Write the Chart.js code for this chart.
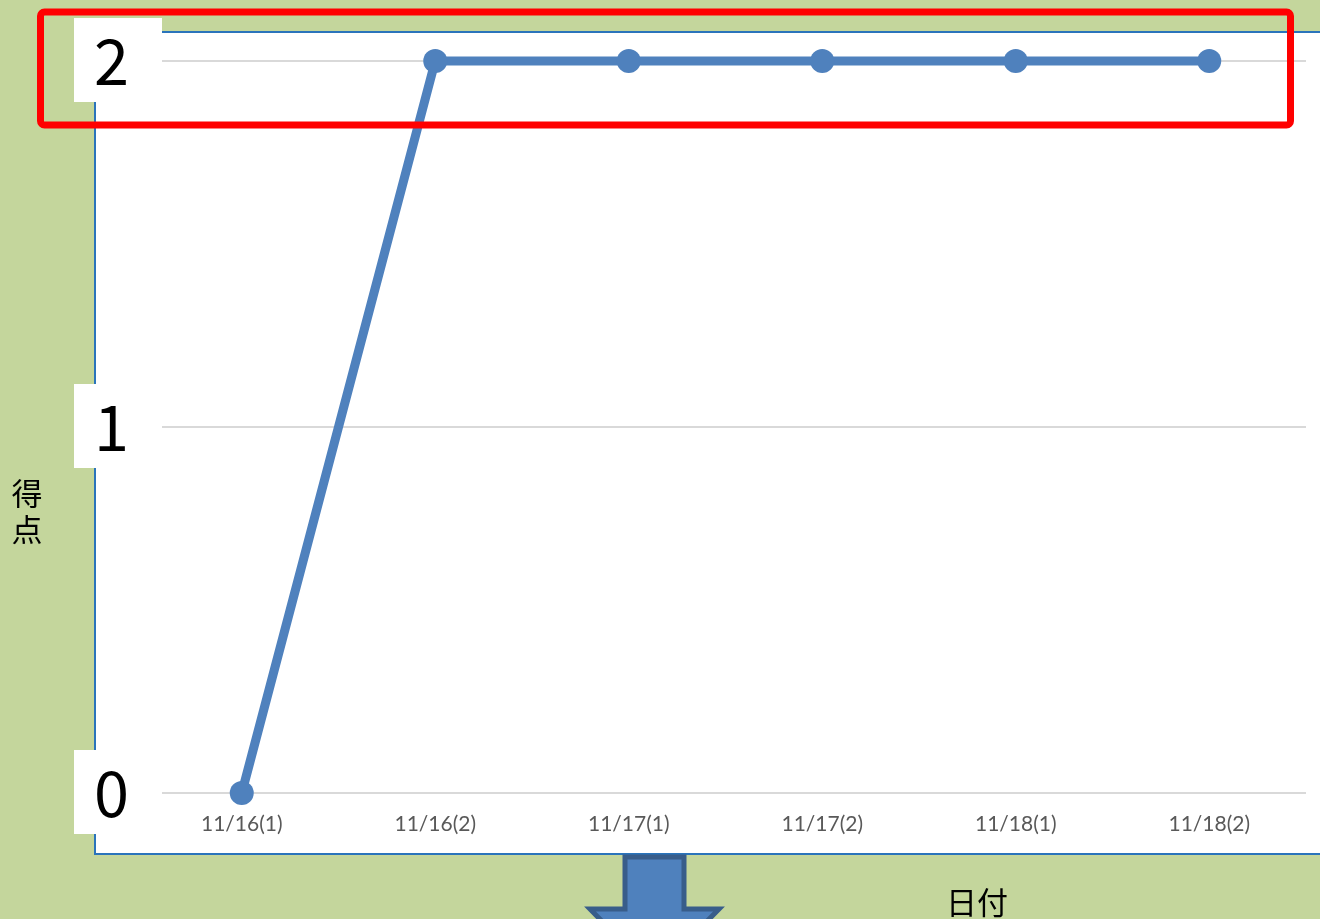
<!DOCTYPE html>
<html>
<head>
<meta charset="utf-8">
<script src="https://cdn.jsdelivr.net/npm/chart.js@4"></script>
<style>
  html, body { margin: 0; padding: 0; background: #c4d69c; }
  canvas { display: block; }
</style>
</head>
<body>
<canvas id="scoreChart" width="1320" height="919"></canvas>
<script>
// data
const dates = ['11/16(1)', '11/16(2)', '11/17(1)', '11/17(2)', '11/18(1)', '11/18(2)'];
const scores = [0, 2, 2, 2, 2, 2];
const yTicks = [0, 1, 2];
const yTitle = ['得', '点'];
const xTitle = '日付';

// green page, white plot panel, label boxes, red highlight box and the arrow
const decor = {
  id: 'decor',
  beforeDraw(chart) {
    const ctx = chart.ctx;
    ctx.save();
    ctx.fillStyle = '#c4d69c';
    ctx.fillRect(0, 0, chart.width, chart.height);
    ctx.fillStyle = '#ffffff';
    ctx.fillRect(95, 32, 1240, 822);
    ctx.strokeStyle = '#2a74bb';
    ctx.lineWidth = 2;
    ctx.strokeRect(95, 32, 1240, 822);
    ctx.restore();
  },
  beforeDatasetsDraw(chart) {
    // white boxes behind the big y tick labels (they hide the grid start)
    const ctx = chart.ctx;
    const y = chart.scales.y;
    ctx.save();
    ctx.fillStyle = '#ffffff';
    y.ticks.forEach(t => {
      const py = y.getPixelForValue(t.value);
      ctx.fillRect(74, py - 43, 88, 84);
    });
    ctx.restore();
  },
  afterDraw(chart) {
    const ctx = chart.ctx;
    ctx.save();

    // red highlight around the top row
    ctx.strokeStyle = '#ff0000';
    ctx.lineWidth = 7;
    ctx.lineJoin = 'round';
    ctx.beginPath();
    ctx.roundRect(40.5, 12, 1250, 113, 4);
    ctx.stroke();

    // down arrow under the plot
    ctx.fillStyle = '#4f81bd';
    ctx.strokeStyle = '#385d8a';
    ctx.lineWidth = 5;
    ctx.lineJoin = 'miter';
    ctx.beginPath();
    ctx.moveTo(625, 857);
    ctx.lineTo(684, 857);
    ctx.lineTo(684, 909);
    ctx.lineTo(719, 909);
    ctx.lineTo(654.5, 975);
    ctx.lineTo(590, 909);
    ctx.lineTo(625, 909);
    ctx.closePath();
    ctx.fill();
    ctx.stroke();

    // axis titles
    ctx.fillStyle = '#000000';
    ctx.font = '31px "Noto Sans CJK JP"';
    ctx.textAlign = 'center';
    ctx.textBaseline = 'middle';
    yTitle.forEach((ch, i) => ctx.fillText(ch, 27, 493 + i * 36));
    ctx.fillText(xTitle, 977, 902);
    ctx.restore();
  }
};

new Chart(document.getElementById('scoreChart'), {
  type: 'line',
  data: {
    labels: dates,
    datasets: [{
      data: scores,
      borderColor: '#4f81bd',
      backgroundColor: '#4f81bd',
      borderWidth: 9,
      pointRadius: 12,
      pointHoverRadius: 12,
      pointBackgroundColor: '#4f81bd',
      pointBorderWidth: 0,
      tension: 0,
      clip: false
    }]
  },
  options: {
    responsive: false,
    animation: false,
    layout: { padding: { top: 61, right: 14, bottom: 0, left: 0 } },
    plugins: { legend: { display: false }, tooltip: { enabled: false } },
    scales: {
      x: {
        offset: true,
        grid: { display: false, drawTicks: false },
        border: { display: false },
        ticks: {
          color: '#595959',
          font: { family: 'Lato', size: 21 },
          padding: 19,
          maxRotation: 0
        },
        afterFit(scale) { scale.height = 126; }
      },
      y: {
        min: 0,
        max: 2,
        afterBuildTicks(scale) { scale.ticks = yTicks.map(v => ({ value: v })); },
        grid: { color: '#d9d9d9', lineWidth: 2, drawTicks: false },
        border: { display: false },
        ticks: {
          z: 1,
          color: '#000000',
          font: { family: '"Noto Sans CJK JP"', size: 63 },
          padding: 16
        },
        afterFit(scale) { scale.width = 145; }
      }
    }
  },
  plugins: [decor]
});
</script>
</body>
</html>
